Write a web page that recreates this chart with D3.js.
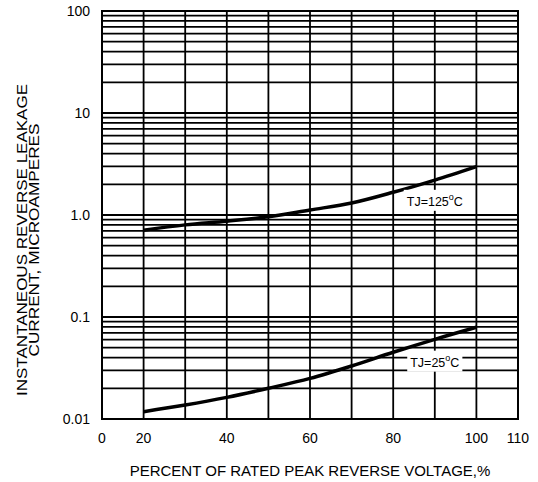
<!DOCTYPE html>
<html>
<head>
<meta charset="utf-8">
<script src="https://cdn.jsdelivr.net/npm/d3@7"></script>
<style>
  body { margin: 0; background: #fff; }
  text { font-family: "Liberation Sans", Arial, sans-serif; fill: #000; }
</style>
</head>
<body>
<div id="chart"></div>
<script>
// data
var voltagePct = [20, 30, 40, 50, 60, 70, 80, 90, 100]
var leakage125 = [0.71, 0.80, 0.87, 0.96, 1.12, 1.31, 1.67, 2.2, 2.98]
var leakage25 = [0.0118, 0.0137, 0.0163, 0.0200, 0.025, 0.0331, 0.0451, 0.0604, 0.0793]

var xTicks = [0, 20, 40, 60, 80, 100, 110]
var xGrid = [0, 20, 30, 40, 50, 60, 70, 80, 90, 100, 110]
var yTicks = [0.01, 0.1, 1, 10, 100]
var yTickLabels = ["0.01", "0.1", "1.0", "10", "100"]

var curveLabels = [
  {temp: "125", x: 90, y: 1.23},
  {temp: "25", x: 90, y: 0.0326}
]

// set the dimensions and margins of the graph
var margin = {top: 11, right: 20, bottom: 63, left: 102},
    width = 538 - margin.left - margin.right,
    height = 482 - margin.top - margin.bottom

var svg = d3.select("#chart")
  .append("svg")
  .attr("width", 538)
  .attr("height", 482)
  .append("g")
  .attr("transform", "translate(" + margin.left + "," + margin.top + ")")

// first interval (0 -> 20) is drawn as wide as the others
var x = d3.scaleLinear()
  .domain([0, 20, 110])
  .range([0, width / 10, width])

var y = d3.scaleLog()
  .domain([0.01, 100])
  .range([height, 0])

// horizontal grid, 1..9 in each decade
var yGrid = []
for (var e = -2; e < 2; e++) {
  for (var k = 1; k < 10; k++) yGrid.push(k * Math.pow(10, e))
}
yGrid.push(100)

var grid = svg.append("g")
  .attr("stroke", "#000")
  .attr("stroke-width", 1.8)

grid.selectAll(".hl")
  .data(yGrid)
  .enter().append("line")
    .attr("x1", 0)
    .attr("x2", width)
    .attr("y1", function(d) { return y(d) })
    .attr("y2", function(d) { return y(d) })

grid.selectAll(".vl")
  .data(xGrid)
  .enter().append("line")
    .attr("x1", function(d) { return x(d) })
    .attr("x2", function(d) { return x(d) })
    .attr("y1", 0)
    .attr("y2", height)

svg.append("rect")
  .attr("width", width)
  .attr("height", height)
  .attr("fill", "none")
  .attr("stroke", "#000")
  .attr("stroke-width", 2)

// curves
var line = d3.line()
  .x(function(d) { return x(d[0]) })
  .y(function(d) { return y(d[1]) })
  .curve(d3.curveMonotoneX)

;[leakage125, leakage25].forEach(function(vals) {
  svg.append("path")
    .datum(voltagePct.map(function(v, i) { return [v, vals[i]] }))
    .attr("fill", "none")
    .attr("stroke", "#000")
    .attr("stroke-width", 3.5)
    .attr("d", line)
})

// curve labels on a white box
curveLabels.forEach(function(c) {
  var g = svg.append("g")
  var t = g.append("text")
    .attr("x", x(c.x))
    .attr("y", y(c.y))
    .attr("text-anchor", "middle")
    .style("font-size", "12.5px")
  t.append("tspan").text("TJ=" + c.temp)
  t.append("tspan").attr("dy", -6).style("font-size", "9px").text("o")
  t.append("tspan").attr("dy", 6).text("C")
  var b = t.node().getBBox()
  g.insert("rect", "text")
    .attr("x", b.x - 3)
    .attr("y", b.y - 2)
    .attr("width", b.width + 6)
    .attr("height", b.height + 4)
    .attr("fill", "#fff")
})

// axes labels
svg.selectAll(".ytick")
  .data(yTicks)
  .enter().append("text")
    .attr("x", -12)
    .attr("y", function(d) { return y(d) })
    .attr("dy", "0.36em")
    .attr("text-anchor", "end")
    .style("font-size", "14px")
    .text(function(d, i) { return yTickLabels[i] })

svg.selectAll(".xtick")
  .data(xTicks)
  .enter().append("text")
    .attr("x", function(d) { return x(d) })
    .attr("y", height + 24)
    .attr("text-anchor", "middle")
    .style("font-size", "14px")
    .text(function(d) { return d })

svg.append("text")
  .attr("x", width / 2)
  .attr("y", height + 57)
  .attr("text-anchor", "middle")
  .style("font-size", "15px")
  .text("PERCENT OF RATED PEAK REVERSE VOLTAGE,%")

var yTitle = svg.append("g")
  .attr("transform", "translate(" + (-margin.left) + "," + (240 - margin.top) + ") rotate(-90)")

yTitle.append("text")
  .attr("x", 0)
  .attr("y", 26.5)
  .attr("text-anchor", "middle")
  .attr("textLength", 312)
  .attr("lengthAdjust", "spacingAndGlyphs")
  .style("font-size", "15.5px")
  .text("INSTANTANEOUS REVERSE LEAKAGE")

yTitle.append("text")
  .attr("x", 0)
  .attr("y", 38.8)
  .attr("text-anchor", "middle")
  .attr("textLength", 233)
  .attr("lengthAdjust", "spacingAndGlyphs")
  .style("font-size", "15.5px")
  .text("CURRENT, MICROAMPERES")
</script>
</body>
</html>
